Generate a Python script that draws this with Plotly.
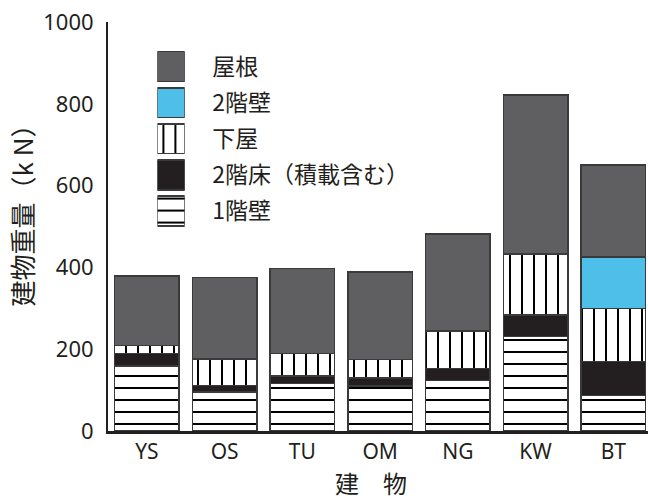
import plotly.graph_objects as go

# Building weight breakdown (kN) per building, stacked bottom to top
buildings = ["YS", "OS", "TU", "OM", "NG", "KW", "BT"]
first_floor_wall = [159, 95, 116, 110, 123, 231, 87]      # 1階壁
second_floor_slab = [30, 16, 18, 20, 30, 53, 83]          # 2階床（積載含む）
lean_to_roof = [20, 65, 55, 45, 92, 149, 130]             # 下屋
second_floor_wall = [None, None, None, None, None, None, 125]  # 2階壁
roof = [170, 199, 208, 214, 237, 388, 225]                # 屋根

legend_order = ["屋根", "2階壁", "下屋", "2階床（積載含む）", "1階壁"]

y_ticks = [0, 200, 400, 600, 800, 1000]

JP = "Noto Sans CJK JP"
NUM = "Noto Sans, Noto Sans CJK JP"
INK = "#231f20"
OUTLINE = "#3a3a3a"

styles = {
    "1階壁": dict(color="white", pattern=dict(shape="-", size=12, solidity=0.17,
                                              fgcolor="#000000", bgcolor="white",
                                              fgopacity=1)),
    "2階床（積載含む）": dict(color=INK),
    "下屋": dict(color="white", pattern=dict(shape="|", size=12, solidity=0.17,
                                            fgcolor="#000000", bgcolor="white",
                                            fgopacity=1)),
    "2階壁": dict(color="#4dbfe8"),
    "屋根": dict(color="#5f5f61"),
}

series = [
    ("1階壁", first_floor_wall),
    ("2階床（積載含む）", second_floor_slab),
    ("下屋", lean_to_roof),
    ("2階壁", second_floor_wall),
    ("屋根", roof),
]

fig = go.Figure()

for name, vals in series:
    fig.add_trace(go.Bar(
        x=buildings, y=vals, name=name, showlegend=False,
        marker=dict(**styles[name], line=dict(color=OUTLINE, width=1.5)),
        hoverinfo="skip",
    ))

# Legend swatches: one unit bar per series on a small categorical axis pair
for name in legend_order:
    fig.add_trace(go.Bar(
        x=[1], y=[name], orientation="h", xaxis="x2", yaxis="y2",
        showlegend=False, hoverinfo="skip",
        marker=dict(**styles[name], line=dict(color=OUTLINE, width=1.5)),
    ))

fig.update_layout(
    width=648, height=500,
    margin=dict(l=108, r=0, t=22, b=69),
    paper_bgcolor="white", plot_bgcolor="white",
    barmode="stack", bargap=0.172,
    font=dict(family=NUM, color=INK),
    xaxis=dict(
        type="category", range=[-0.5, 6.446],
        showline=True, linewidth=2.5, linecolor=INK,
        ticks="", showgrid=False, zeroline=False,
        tickfont=dict(size=21, family=NUM),
    ),
    yaxis=dict(
        range=[0, 1000], tickvals=y_ticks,
        showline=True, linewidth=2, linecolor=INK,
        ticks="", showgrid=False, zeroline=False,
        tickfont=dict(size=22, family=NUM),
        ticklabelstandoff=8,
    ),
    xaxis2=dict(domain=[0.0915, 0.142], anchor="y2", range=[0, 1], visible=False),
    yaxis2=dict(
        domain=[0.494, 0.935], anchor="x2", type="category",
        categoryorder="array", categoryarray=legend_order, autorange="reversed",
        side="right", showline=False, showgrid=False, zeroline=False,
        ticks="outside", ticklen=22, tickcolor="rgba(0,0,0,0)",
        tickfont=dict(size=23, family=JP),
    ),
    annotations=[
        dict(
            text="建物重量（k N）", xref="paper", yref="paper",
            x=-0.16, y=0.543, xanchor="center", yanchor="middle",
            textangle=-90, showarrow=False,
            font=dict(size=26, family=JP, color=INK),
        ),
        dict(
            text="建　物", xref="paper", yref="paper", x=0.487, y=0,
            yshift=-51, yanchor="middle", showarrow=False,
            font=dict(size=24, family=JP, color=INK),
        ),
    ],
)

fig.write_html("out.html")
